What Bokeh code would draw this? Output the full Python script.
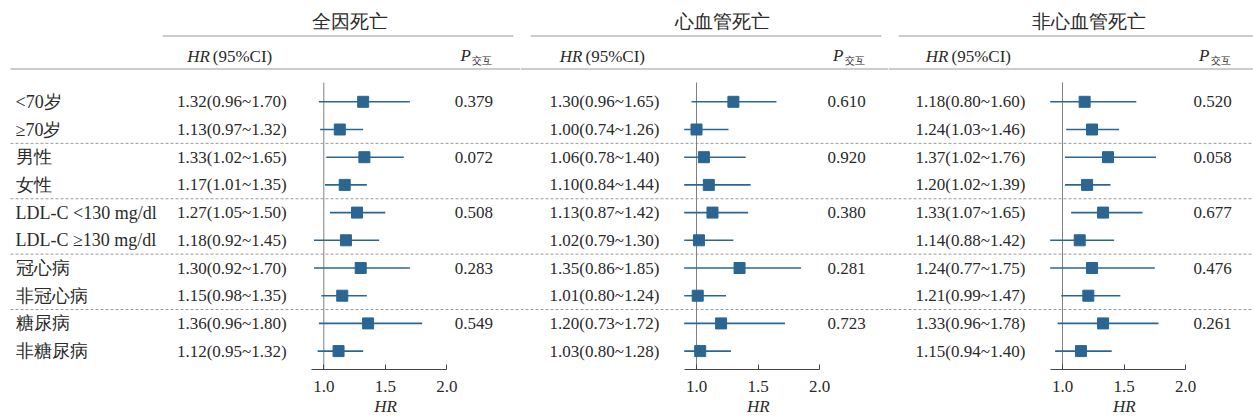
from bokeh.plotting import figure
from bokeh.models import Range1d, LinearAxis, FixedTicker, PrintfTickFormatter, ColumnDataSource, Title
from bokeh.layouts import row
from bokeh.core.properties import value
from bokeh.embed import file_html
from bokeh.resources import INLINE
import numpy as np

# ---------------- data ----------------
labels = ["<70岁", "≥70岁", "男性", "女性", "LDL-C <130 mg/dl", "LDL-C ≥130 mg/dl",
          "冠心病", "非冠心病", "糖尿病", "非糖尿病"]

titles = ["全因死亡", "心血管死亡", "非心血管死亡"]

all_hr = [1.32, 1.13, 1.33, 1.17, 1.27, 1.18, 1.30, 1.15, 1.36, 1.12]
all_lo = [0.96, 0.97, 1.02, 1.01, 1.05, 0.92, 0.92, 0.98, 0.96, 0.95]
all_hi = [1.70, 1.32, 1.65, 1.35, 1.50, 1.45, 1.70, 1.35, 1.80, 1.32]
all_p = [0.379, None, 0.072, None, 0.508, None, 0.283, None, 0.549, None]

cv_hr = [1.30, 1.00, 1.06, 1.10, 1.13, 1.02, 1.35, 1.01, 1.20, 1.03]
cv_lo = [0.96, 0.74, 0.78, 0.84, 0.87, 0.79, 0.86, 0.80, 0.73, 0.80]
cv_hi = [1.65, 1.26, 1.40, 1.44, 1.42, 1.30, 1.85, 1.24, 1.72, 1.28]
cv_p = [0.610, None, 0.920, None, 0.380, None, 0.281, None, 0.723, None]

ncv_hr = [1.18, 1.24, 1.37, 1.20, 1.33, 1.14, 1.24, 1.21, 1.33, 1.15]
ncv_lo = [0.80, 1.03, 1.02, 1.02, 1.07, 0.88, 0.77, 0.99, 0.96, 0.94]
ncv_hi = [1.60, 1.46, 1.76, 1.39, 1.65, 1.42, 1.75, 1.47, 1.78, 1.40]
ncv_p = [0.520, None, 0.058, None, 0.677, None, 0.476, None, 0.261, None]

ticks = [1.0, 1.5, 2.0]
axis_bounds = (0.9, 2.0)

# ---------------- style ----------------
FONT = value("Liberation Serif")
BLUE = "#2b6692"
GRAY = "#9a9a9a"
TXT = "#2a2a2a"
FS = "17px"
H = 418
TOP_PX, BOT_PX = 0, 369          # frame in reference pixel coordinates
ROW0, ROWSTEP = 101.3, 27.7
PX_PER_HR = 123.0

rows = np.arange(len(labels))


def make_panel(left, right, x1, hr, lo, hi, pv, title, tl_left, tl_right, show_labels=False):
    w = right - left
    hr_range = Range1d(1 + (left - x1) / PX_PER_HR, 1 + (right - x1) / PX_PER_HR)
    yr = Range1d((BOT_PX - ROW0) / ROWSTEP, (TOP_PX - ROW0) / ROWSTEP)
    p = figure(width=w, height=H, x_range=Range1d(left, right), y_range=yr,
               x_axis_type=None, y_axis_type=None, output_backend="svg",
               toolbar_location=None, min_border_left=0, min_border_right=0,
               min_border_top=0, min_border_bottom=H - (BOT_PX - TOP_PX),
               outline_line_color=None, background_fill_color="white",
               border_fill_color="white")
    p.extra_x_ranges = {"hr": hr_range}
    p.extra_y_ranges = {"px": Range1d(BOT_PX, TOP_PX)}

    # decorative lines (px coords)
    line_left = 10 if show_labels else left
    p.segment(x0=[tl_left], y0=[35.5], x1=[tl_right], y1=[35.5], y_range_name="px",
              line_color=GRAY, line_width=1.2)
    p.segment(x0=[line_left], y0=[68.5], x1=[right], y1=[68.5], y_range_name="px",
              line_color=GRAY, line_width=1.2)
    seps = [1.5, 3.5, 5.5, 7.5]
    p.segment(x0=[line_left] * 4, y0=seps, x1=[right] * 4, y1=seps,
              line_color=GRAY, line_width=1, line_dash="3 2")

    # title
    p.text(x=[x1 + 26], y=[21], text=[title], y_range_name="px", text_font=FONT,
           text_font_size="18.5px", text_align="center", text_baseline="middle",
           text_color=TXT)
    # header HR (95%CI)
    hx = x1 - 92
    p.text(x=[hx - 22], y=[56], text=["HR"], y_range_name="px", text_font=FONT,
           text_font_size=FS, text_font_style="italic", text_align="right",
           text_baseline="middle", text_color=TXT)
    p.text(x=[hx - 19], y=[56], text=["(95%CI)"], y_range_name="px", text_font=FONT,
           text_font_size=FS, text_align="left", text_baseline="middle", text_color=TXT)
    # header P交互
    px_ = x1 + 150
    p.text(x=[px_ - 3], y=[55], text=["P"], y_range_name="px", text_font=FONT,
           text_font_size=FS, text_font_style="italic", text_align="right",
           text_baseline="middle", text_color=TXT)
    p.text(x=[px_ - 2], y=[60], text=["交互"], y_range_name="px", text_font=FONT,
           text_font_size="10px", text_align="left", text_baseline="middle", text_color=TXT)

    # row labels
    if show_labels:
        p.text(x=[15] * len(labels), y=rows, text=labels, text_font=FONT, text_font_size="18px",
               text_align="left", text_baseline="middle", text_color=TXT)

    # HR text
    hr_txt = [f"{a:.2f}({b:.2f}~{c:.2f})" for a, b, c in zip(hr, lo, hi)]
    p.text(x=[hx] * len(hr_txt), y=rows, text=hr_txt, text_font=FONT, text_font_size=FS,
           text_align="center", text_baseline="middle", text_color=TXT)
    # P values
    pr = [i for i, v in enumerate(pv) if v is not None]
    p.text(x=[px_] * len(pr), y=pr, text=[f"{pv[i]:.3f}" for i in pr], text_font=FONT,
           text_font_size=FS, text_align="center", text_baseline="middle", text_color=TXT)

    # reference line at HR = 1
    p.segment(x0=[1.0], y0=[82], x1=[1.0], y1=[BOT_PX], x_range_name="hr", y_range_name="px",
              line_color="#808080", line_width=1)

    # forest
    src = ColumnDataSource(dict(y=rows, hr=hr, lo=np.maximum(lo, axis_bounds[0]), hi=hi))
    p.segment(x0="lo", y0="y", x1="hi", y1="y", source=src, x_range_name="hr",
              line_color=BLUE, line_width=1.6)
    p.scatter(x="hr", y="y", source=src, x_range_name="hr", marker="square", size=11,
              fill_color=BLUE, line_color=BLUE)

    ax = LinearAxis(x_range_name="hr", bounds=axis_bounds, ticker=FixedTicker(ticks=ticks),
                    formatter=PrintfTickFormatter(format="%.1f"))
    ax.major_label_text_font = "Liberation Serif"
    ax.major_label_text_font_size = FS
    ax.major_label_text_color = TXT
    ax.major_label_standoff = 11
    ax.major_tick_in = 5
    ax.major_tick_out = 0
    ax.minor_tick_in = 0
    ax.minor_tick_out = 0
    ax.axis_line_color = "#444"
    ax.major_tick_line_color = "#444"
    ax.axis_line_width = 1.2
    p.add_layout(ax, "below")

    # axis title "HR" placed under the middle tick (1.5)
    t = Title(text="HR", align="left", offset=x1 + 0.5 * PX_PER_HR - left - 11,
              text_font="Liberation Serif", text_font_style="italic",
              text_font_size=FS, text_color=TXT, standoff=0)
    p.add_layout(t, "below")
    return p


p1 = make_panel(0, 520, 323.3, all_hr, all_lo, all_hi, all_p, titles[0], 162, 513, show_labels=True)
p2 = make_panel(520, 888, 696, cv_hr, cv_lo, cv_hi, cv_p, titles[1], 530, 881)
p3 = make_panel(888, 1253, 1062, ncv_hr, ncv_lo, ncv_hi, ncv_p, titles[2], 898, 1253)

layout = row(p1, p2, p3)
open("out.html", "w").write(file_html(layout, INLINE))
